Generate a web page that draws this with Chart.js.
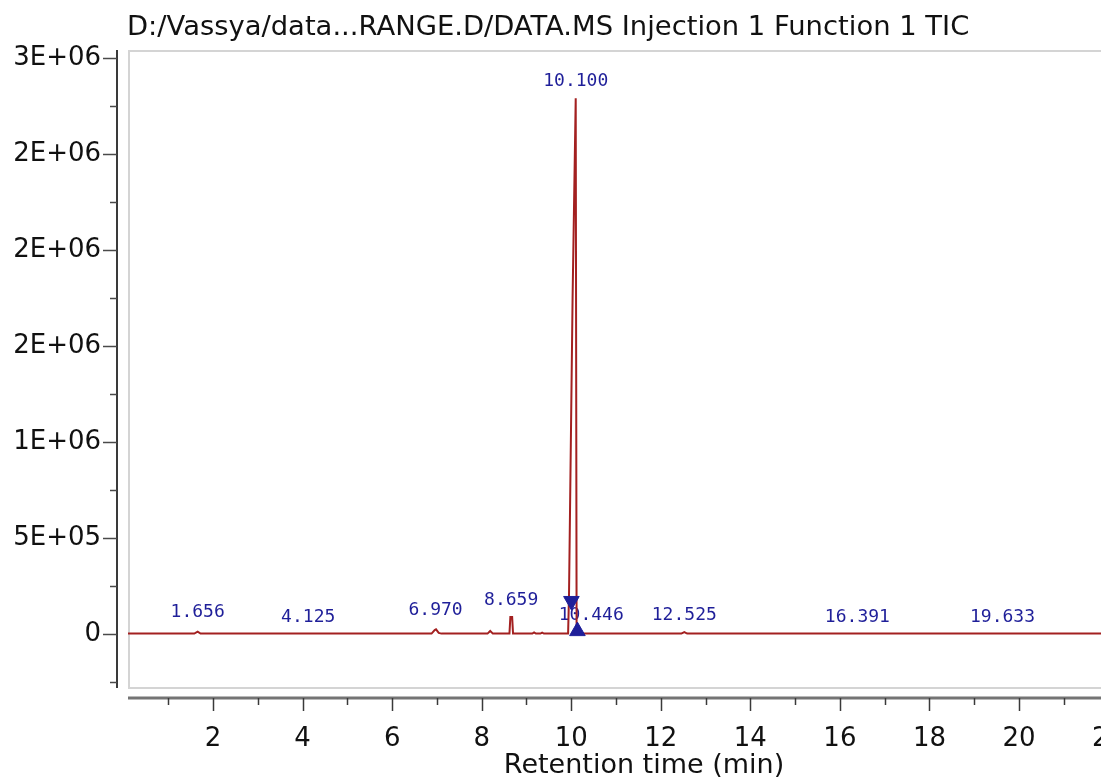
<!DOCTYPE html>
<html><head><meta charset="utf-8">
<script src="https://cdn.jsdelivr.net/npm/chart.js@4.4.0/dist/chart.umd.min.js"></script>
<style>
html,body{margin:0;padding:0;overflow:hidden;background:#fff;width:1101px;height:780px}
#wrap{position:relative;width:1170px;height:780px}
canvas{display:block}
</style></head>
<body><div id="wrap"><canvas id="c" width="1170" height="780"></canvas></div>
<script>
const chartTitle = 'D:/Vassya/data...RANGE.D/DATA.MS Injection 1 Function 1 TIC';
const xAxisTitle = 'Retention time (min)';

// TIC trace (retention time in min, intensity)
const retentionTimes = [0.10, 1.58, 1.656, 1.72, 6.88, 6.95, 6.98, 7.04, 7.10, 8.13, 8.19, 8.25, 8.62, 8.64, 8.68, 8.70, 9.13, 9.17, 9.21, 9.31, 9.35, 9.39, 9.93, 9.95, 10.03, 10.10, 10.12, 12.46, 12.525, 12.59, 23.20];
const intensities    = [2000, 2000, 12000, 2000, 2000, 20000, 24000, 6000, 2000, 2000, 16000, 2000, 2000, 88000, 88000, 2000, 2000, 8000, 2000, 2000, 7000, 2000, 2000, 200000, 1750000, 2790000, 2000, 2000, 10000, 2000, 2000];

// peak annotations
const peakTimes  = [1.656, 4.125, 6.970, 8.659, 10.100, 10.446, 12.525, 16.391, 19.633];
const peakLabels = ['1.656', '4.125', '6.970', '8.659', '10.100', '10.446', '12.525', '16.391', '19.633'];
const peakApex   = [25000, 1000, 36000, 89000, 2790000, 10000, 10000, 0, 0];

// integration markers
const markerTimes  = [10.004, 10.138];
const markerValues = [172000, 15000];
const markerRotations = [180, 0];

// axis ticks
const xMajorTicks = [2, 4, 6, 8, 10, 12, 14, 16, 18, 20, 22];
const xMinorTicks = [1, 3, 5, 7, 9, 11, 13, 15, 17, 19, 21, 23];
const yMajorTicks = [0, 500000, 1000000, 1500000, 2000000, 2500000, 3000000];
const yTickLabels = ['0', '5E+05', '1E+06', '2E+06', '2E+06', '2E+06', '3E+06'];
const yMinorTicks = [-250000, 250000, 750000, 1250000, 1750000, 2250000, 2750000];

const decor = {
  id: 'decor',
  beforeDraw(chart) {
    const ctx = chart.ctx;
    ctx.save();
    ctx.fillStyle = '#ffffff';
    ctx.fillRect(0, 0, chart.width, chart.height);
    ctx.restore();
  },
  beforeDatasetsDraw(chart) {
    const ctx = chart.ctx, a = chart.chartArea;
    const xs = chart.scales.x, ys = chart.scales.y;
    ctx.save();
    // plot frame
    ctx.strokeStyle = '#d4d4d4';
    ctx.lineWidth = 2;
    ctx.strokeRect(a.left + 1, a.top + 1, a.right - a.left + 20, a.bottom - a.top - 1);
    // peak labels
    ctx.font = '18px "DejaVu Sans Mono"';
    ctx.fillStyle = '#1f1f99';
    ctx.textAlign = 'center';
    ctx.textBaseline = 'alphabetic';
    peakTimes.forEach((t, i) => {
      ctx.fillText(peakLabels[i], xs.getPixelForValue(t), ys.getPixelForValue(peakApex[i]) - 12);
    });
    ctx.restore();
  },
  afterDraw(chart) {
    const ctx = chart.ctx, a = chart.chartArea;
    const xs = chart.scales.x, ys = chart.scales.y;
    ctx.save();
    // y axis line
    const yAxisX = a.left - 11;
    ctx.strokeStyle = '#3a3a3a';
    ctx.lineWidth = 2;
    ctx.beginPath();
    ctx.moveTo(yAxisX, a.top);
    ctx.lineTo(yAxisX, a.bottom);
    ctx.stroke();
    ctx.lineWidth = 1.5;
    ctx.strokeStyle = '#4a4a4a';
    yMajorTicks.forEach(v => {
      const p = Math.round(ys.getPixelForValue(v)) + 0.5;
      ctx.beginPath(); ctx.moveTo(yAxisX - 14, p); ctx.lineTo(yAxisX, p); ctx.stroke();
    });
    yMinorTicks.forEach(v => {
      const p = Math.round(ys.getPixelForValue(v)) + 0.5;
      ctx.beginPath(); ctx.moveTo(yAxisX - 7, p); ctx.lineTo(yAxisX, p); ctx.stroke();
    });
    // x axis line
    const xAxisY = a.bottom + 10;
    ctx.strokeStyle = '#747474';
    ctx.lineWidth = 3;
    ctx.beginPath();
    ctx.moveTo(a.left, xAxisY);
    ctx.lineTo(chart.width, xAxisY);
    ctx.stroke();
    ctx.strokeStyle = '#3a3a3a';
    ctx.lineWidth = 1.5;
    xMajorTicks.forEach(v => {
      const p = Math.round(xs.getPixelForValue(v)) + 0.5;
      ctx.beginPath(); ctx.moveTo(p, xAxisY); ctx.lineTo(p, xAxisY + 13); ctx.stroke();
    });
    xMinorTicks.forEach(v => {
      const p = Math.round(xs.getPixelForValue(v)) + 0.5;
      ctx.beginPath(); ctx.moveTo(p, xAxisY); ctx.lineTo(p, xAxisY + 7); ctx.stroke();
    });
    // title
    ctx.font = '27.4px "DejaVu Sans"';
    ctx.fillStyle = '#111111';
    ctx.textAlign = 'left';
    ctx.textBaseline = 'alphabetic';
    ctx.fillText(chartTitle, 127, 35);
    ctx.restore();
  }
};

new Chart(document.getElementById('c'), {
  type: 'scatter',
  data: {
    datasets: [
      {
        label: 'Integration markers',
        data: markerTimes.map((t, i) => ({ x: t, y: markerValues[i] })),
        pointStyle: 'triangle',
        pointRadius: 9,
        rotation: markerRotations,
        backgroundColor: '#1f1f99',
        borderColor: '#1f1f99',
        borderWidth: 1,
        showLine: false
      },
      {
        label: 'TIC',
        data: retentionTimes.map((t, i) => ({ x: t, y: intensities[i] })),
        showLine: true,
        borderColor: '#a32020',
        borderWidth: 2,
        pointRadius: 0,
        tension: 0,
        fill: false
      }
    ]
  },
  options: {
    responsive: false,
    animation: false,
    devicePixelRatio: 1,
    layout: { padding: { top: 50, right: 10, left: 0, bottom: 0 } },
    plugins: { legend: { display: false }, tooltip: { enabled: false }, title: { display: false } },
    scales: {
      x: {
        type: 'linear',
        min: 0.1,
        max: 23.15,
        afterBuildTicks: s => { s.ticks = xMajorTicks.map(v => ({ value: v })); },
        afterFit: s => { s.height = 92; },
        grid: { display: false, drawTicks: false },
        border: { display: false },
        ticks: {
          autoSkip: false, maxRotation: 0,
          padding: 36,
          color: '#111111',
          font: { family: 'DejaVu Sans', size: 26 },
          callback: v => String(v)
        },
        title: {
          display: true, text: xAxisTitle, color: '#111111',
          font: { family: 'DejaVu Sans', size: 27, lineHeight: 1 },
          padding: { top: 0, bottom: 1 }
        }
      },
      y: {
        type: 'linear',
        min: -281250,
        max: 3041667,
        afterBuildTicks: s => { s.ticks = yMajorTicks.map(v => ({ value: v })); },
        afterFit: s => { s.width = 128; },
        grid: { display: false, drawTicks: false },
        border: { display: false },
        ticks: {
          autoSkip: false,
          padding: 27,
          color: '#111111',
          font: { family: 'DejaVu Sans', size: 26 },
          callback: v => yTickLabels[yMajorTicks.indexOf(v)]
        }
      }
    }
  },
  plugins: [decor]
});
</script>
</body></html>
